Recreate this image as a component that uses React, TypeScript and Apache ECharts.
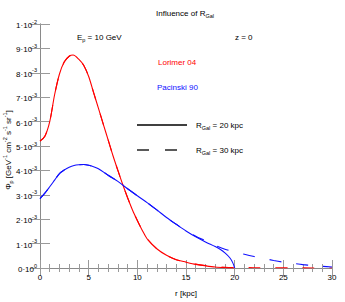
import React, { useEffect, useRef } from "react";
import * as echarts from "echarts";

// radius [kpc] and flux in units of 1e-3 GeV^-1 cm^-2 s^-1 sr^-1
const rLorimer20 = [0, 0.5, 1, 1.5, 2, 2.5, 3, 3.4, 4, 4.5, 5, 5.5, 6, 6.5, 7, 7.5, 8, 8.5, 9, 9.5, 10, 10.5, 11, 12, 13, 14, 15, 16, 17, 18, 19, 20];
const vLorimer20 = [5.2, 5.4, 6.0, 7.1, 7.95, 8.45, 8.68, 8.73, 8.55, 8.3, 7.85, 7.2, 6.55, 5.9, 5.25, 4.6, 4.0, 3.42, 2.88, 2.38, 1.95, 1.55, 1.2, 0.79, 0.52, 0.34, 0.24, 0.15, 0.09, 0.04, 0.015, 0];

const rLorimer30 = [0, 0.5, 1, 1.5, 2, 2.5, 3, 3.4, 4, 4.5, 5, 5.5, 6, 6.5, 7, 7.5, 8, 8.5, 9, 9.5, 10, 10.5, 11, 12, 13, 14, 15, 16, 17, 18, 19, 20, 22, 24, 26, 28, 30];
const vLorimer30 = [5.2, 5.4, 6.0, 7.1, 7.95, 8.45, 8.68, 8.73, 8.55, 8.3, 7.85, 7.2, 6.55, 5.9, 5.25, 4.6, 4.0, 3.42, 2.88, 2.38, 1.95, 1.55, 1.2, 0.79, 0.52, 0.34, 0.24, 0.16, 0.1, 0.05, 0.03, 0.02, 0.012, 0.008, 0.005, 0.003, 0.002];

const rPacinski20 = [0, 0.5, 1, 1.5, 2, 2.5, 3, 3.5, 4, 4.5, 5, 5.5, 6, 7, 8, 8.5, 9, 10, 11, 12, 13, 14, 15, 16, 17, 18, 18.5, 19, 19.5, 19.8, 20];
const vPacinski20 = [2.84, 3.07, 3.33, 3.6, 3.87, 4.02, 4.13, 4.2, 4.23, 4.24, 4.21, 4.15, 4.07, 3.8, 3.55, 3.4, 3.25, 2.96, 2.68, 2.38, 2.07, 1.79, 1.52, 1.28, 1.07, 0.88, 0.77, 0.62, 0.42, 0.22, 0];

const rPacinski30 = [0, 0.5, 1, 1.5, 2, 2.5, 3, 3.5, 4, 4.5, 5, 5.5, 6, 7, 8, 8.5, 9, 10, 11, 12, 13, 14, 15, 16, 17, 18, 19, 20, 21, 22, 23, 24, 25, 26, 27, 28, 29, 30];
const vPacinski30 = [2.84, 3.07, 3.33, 3.6, 3.87, 4.02, 4.13, 4.2, 4.23, 4.24, 4.21, 4.15, 4.07, 3.8, 3.55, 3.4, 3.25, 2.96, 2.68, 2.38, 2.07, 1.79, 1.53, 1.3, 1.12, 0.93, 0.77, 0.66, 0.56, 0.47, 0.39, 0.31, 0.24, 0.19, 0.14, 0.1, 0.07, 0.04];

const yTickMantissa = ["0", "1", "2", "3", "4", "5", "6", "7", "8", "9", "1"];
const yTickExponent = ["0", "-3", "-3", "-3", "-3", "-3", "-3", "-3", "-3", "-3", "-2"];

const FONT = "Liberation Sans";
const FS = 8;
const pairs = (xs: number[], ys: number[]) => xs.map((x, i) => [x, ys[i]]);

export default function App() {
  const ref = useRef<HTMLDivElement>(null);
  useEffect(() => {
    if (!ref.current) return;
    const chart = echarts.init(ref.current, null, { renderer: "svg" });
    const axisCol = "#8a8a8a";
    const tickCol = "#9a9a9a";
    const rich = {
      a: { fontSize: FS, fontFamily: FONT, color: "#000", lineHeight: 11, verticalAlign: "bottom" },
      b: { fontSize: 5.5, fontFamily: FONT, color: "#000", lineHeight: 11, verticalAlign: "top" },
      s: { fontSize: 5.5, fontFamily: FONT, color: "#000", lineHeight: 12, verticalAlign: "bottom" },
      t: { fontSize: FS, fontFamily: FONT, color: "#000", lineHeight: 12, verticalAlign: "middle" },
    };
    const xCommon = {
      type: "value",
      min: 0,
      max: 30,
      interval: 5,
      axisLine: { show: true, lineStyle: { color: axisCol, width: 1 } },
      axisTick: { show: true, inside: true, length: 8, lineStyle: { color: tickCol } },
      minorTick: { show: true, splitNumber: 5, length: 4, lineStyle: { color: tickCol } },
      splitLine: { show: false },
      minorSplitLine: { show: false },
    };
    const yCommon = {
      type: "value",
      min: 0,
      max: 10,
      interval: 1,
      axisLine: { show: true, lineStyle: { color: axisCol, width: 1 } },
      axisTick: { show: true, inside: true, length: 10, lineStyle: { color: tickCol } },
      splitLine: { show: false },
    };
    const lineSeries = (name: string, xs: number[], ys: number[], color: string, dashed: boolean) => ({
      name,
      type: "line",
      data: pairs(xs, ys),
      showSymbol: false,
      smooth: 0.3,
      clip: true,
      lineStyle: { color, width: 1.1, type: dashed ? [12, 15] : "solid" },
      z: dashed ? 2 : 3,
    });
    chart.setOption({
      animation: false,
      backgroundColor: "#fff",
      grid: { left: 40, right: 13, top: 24, bottom: 27, containLabel: false },
      xAxis: [
        {
          ...xCommon,
          position: "bottom",
          axisLabel: { show: true, margin: 5, fontSize: FS, color: "#000", fontFamily: FONT },
          name: "r [kpc]",
          nameLocation: "middle",
          nameGap: 21,
          nameTextStyle: { fontSize: FS, color: "#000", fontFamily: FONT },
        },
        { ...xCommon, position: "top", axisLabel: { show: false } },
      ],
      yAxis: [
        {
          ...yCommon,
          position: "left",
          axisLabel: {
            show: true,
            margin: 3,
            formatter: (v: number) => {
              const i = Math.round(v);
              return `{a|${yTickMantissa[i]}·10}{b|${yTickExponent[i]}}`;
            },
            rich,
          },
        },
        { ...yCommon, position: "right", axisLabel: { show: false } },
      ],
      series: [
        lineSeries("Lorimer 04 R30", rLorimer30, vLorimer30, "#ff0000", true),
        lineSeries("Pacinski 90 R30", rPacinski30, vPacinski30, "#1010ff", true),
        lineSeries("Lorimer 04 R20", rLorimer20, vLorimer20, "#ff0000", false),
        lineSeries("Pacinski 90 R20", rPacinski20, vPacinski20, "#1010ff", false),
      ],
      graphic: [
        {
          type: "text",
          x: 185,
          y: 13,
          style: { text: "{t|Influence of R}{s|Gal}", rich, align: "center", verticalAlign: "middle" },
        },
        {
          type: "text",
          x: 77,
          y: 37,
          style: { text: "{t|E}{s|p}{t| = 10 GeV}", rich, align: "left", verticalAlign: "middle" },
        },
        {
          type: "text",
          x: 235,
          y: 37,
          style: { text: "z = 0", fontSize: FS, fontFamily: FONT, fill: "#000", align: "left", verticalAlign: "middle" },
        },
        {
          type: "text",
          x: 158,
          y: 62,
          style: { text: "Lorimer 04", fontSize: FS, fontFamily: FONT, fill: "#ff0000", align: "left", verticalAlign: "middle" },
        },
        {
          type: "text",
          x: 157,
          y: 87,
          style: { text: "Pacinski 90", fontSize: FS, fontFamily: FONT, fill: "#1010ff", align: "left", verticalAlign: "middle" },
        },
        {
          type: "line",
          shape: { x1: 137, y1: 125, x2: 187, y2: 125 },
          style: { stroke: "#000", lineWidth: 1.3 },
        },
        {
          type: "text",
          x: 196,
          y: 125,
          style: { text: "{t|R}{s|Gal}{t| = 20 kpc}", rich, align: "left", verticalAlign: "middle" },
        },
        {
          type: "line",
          shape: { x1: 137, y1: 150, x2: 149, y2: 150 },
          style: { stroke: "#000", lineWidth: 1.3 },
        },
        {
          type: "line",
          shape: { x1: 165, y1: 150, x2: 177, y2: 150 },
          style: { stroke: "#000", lineWidth: 1.3 },
        },
        {
          type: "text",
          x: 196,
          y: 150,
          style: { text: "{t|R}{s|Gal}{t| = 30 kpc}", rich, align: "left", verticalAlign: "middle" },
        },
        {
          type: "text",
          x: 8,
          y: 150,
          rotation: Math.PI / 2,
          style: {
            text: "{t|Φ}{s|p}{t| [GeV}{b|-1}{t| cm}{b|-2}{t| s}{b|-1}{t| sr}{b|-1}{t|]}",
            rich: {
              ...rich,
              b: { fontSize: 5.5, fontFamily: FONT, color: "#000", lineHeight: 12, verticalAlign: "top" },
            },
            align: "center",
            verticalAlign: "middle",
          },
        },
      ],
    });
    return () => chart.dispose();
  }, []);
  return <div ref={ref} style={{ width: 345, height: 302, position: "absolute", left: 0, top: 0 }} />;
}
